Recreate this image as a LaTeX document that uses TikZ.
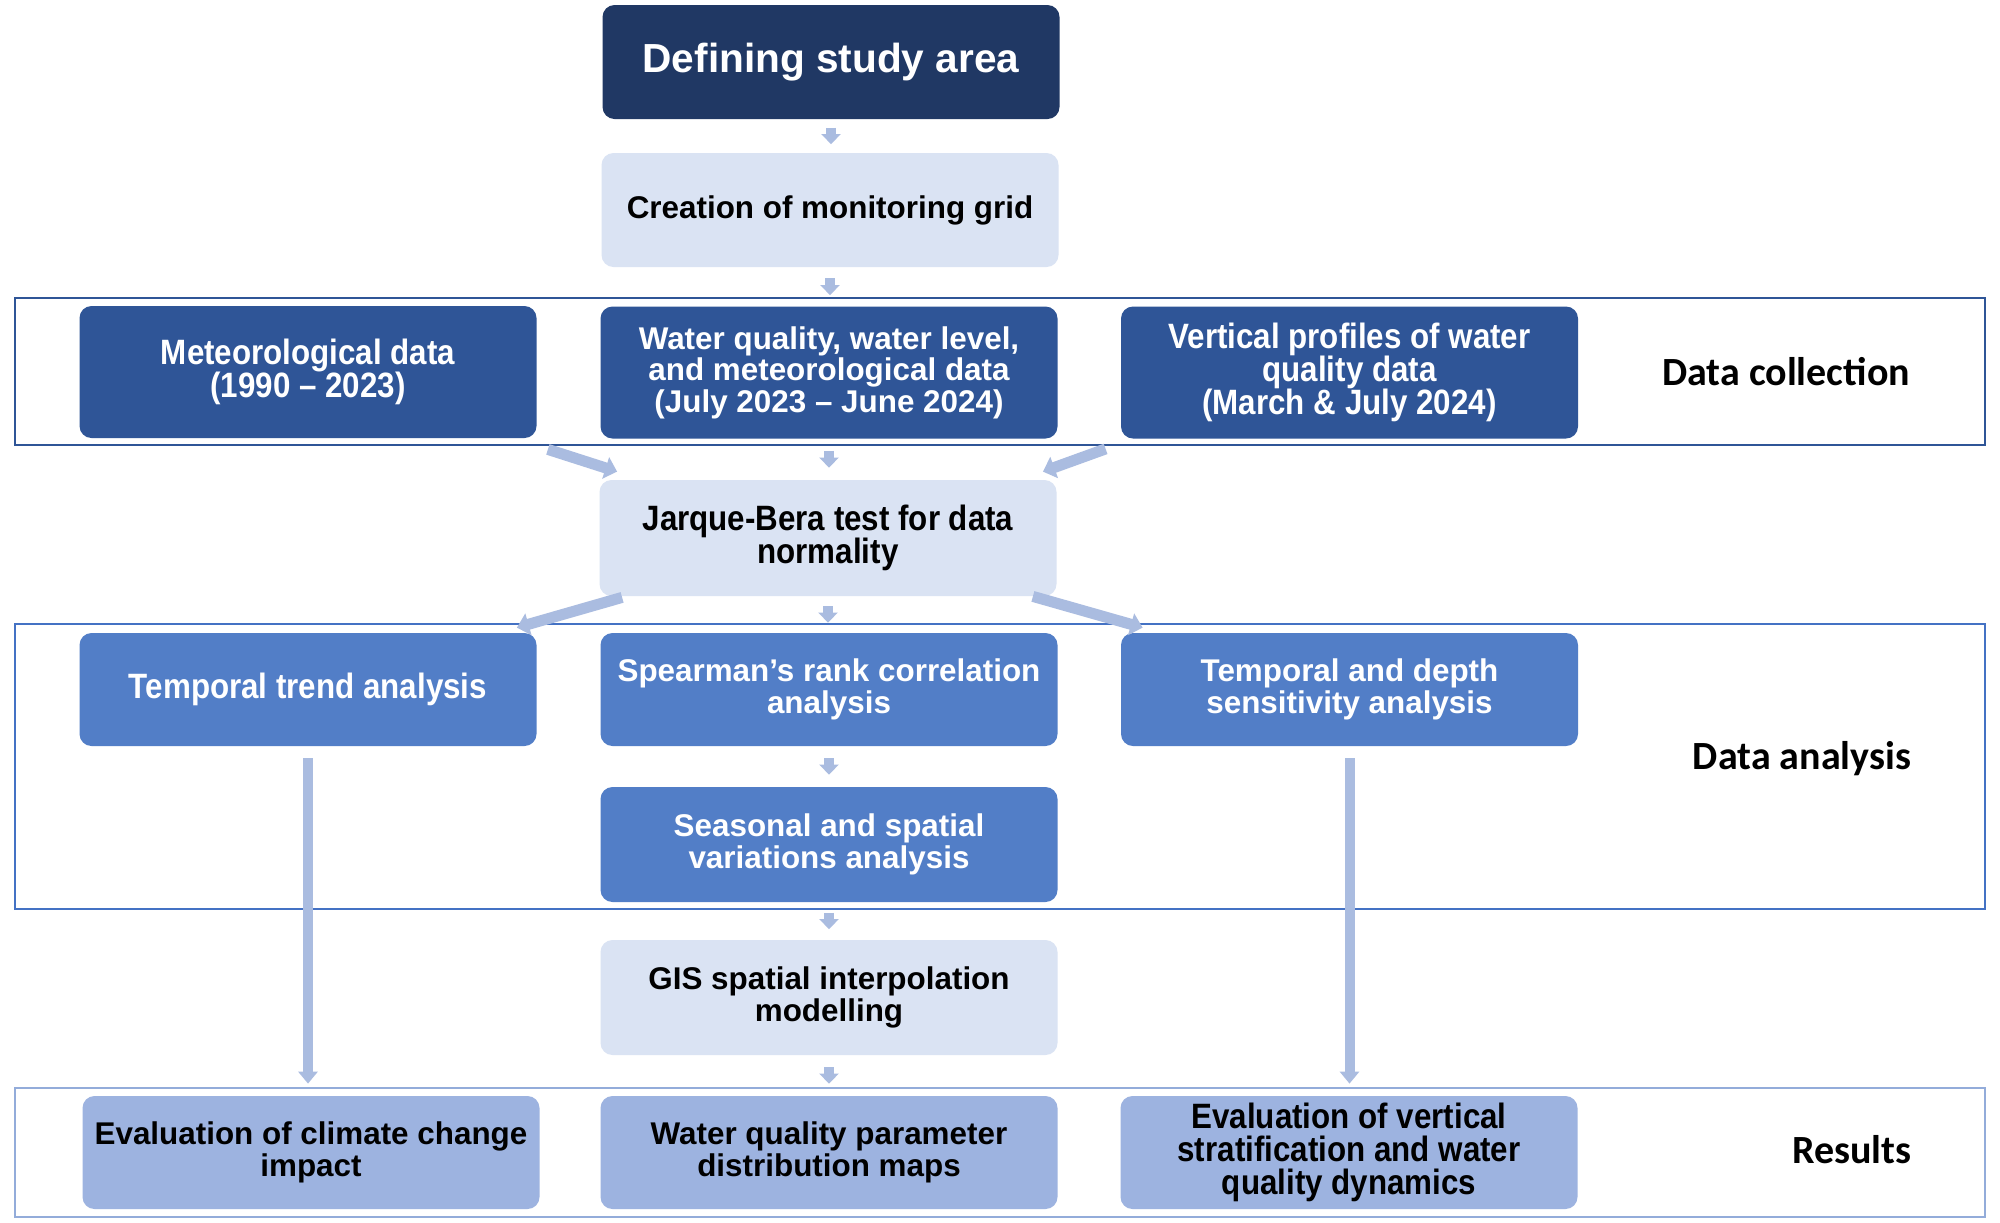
\documentclass[tikz,border=0pt]{standalone}
\usepackage{fontspec}
\setmainfont{Liberation Sans}
\newfontfamily\narrowfont[FakeStretch=0.89,Ligatures=TeX]{Liberation Sans}
\newfontfamily\calfont{Carlito}
\usetikzlibrary{arrows.meta,calc}
\definecolor{navy}{HTML}{203864}
\definecolor{dcblue}{HTML}{2F5597}
\definecolor{dablue}{HTML}{527EC7}
\definecolor{lightbox}{HTML}{DAE3F3}
\definecolor{resbox}{HTML}{9DB3E0}
\definecolor{arrowc}{HTML}{AABCE0}
\definecolor{daframe}{HTML}{4472C4}
\definecolor{resframe}{HTML}{93ACDA}
\newcommand\regfont{\bfseries\fontsize{15.7}{15.8}\selectfont\lineskiplimit=-20pt\relax}
\newcommand\narrfont{\narrowfont\bfseries\fontsize{17.6}{16.4}\selectfont\lineskiplimit=-20pt\relax}
\newcommand\bigfont{\bfseries\fontsize{20.3}{24}\selectfont}
\newcommand\labfont{\calfont\bfseries\fontsize{20}{24}\selectfont}
\begin{document}
\begin{tikzpicture}[x=0.5pt,y=-0.5pt,
  box/.style={rounded corners=6pt, minimum width=228.5pt, minimum height=57pt, inner sep=0pt, align=center, font=\regfont},
  navybox/.style={box, fill=navy, text=white},
  dcbox/.style={box, fill=dcblue, text=white, minimum height=66pt},
  dabox/.style={box, fill=dablue, text=white, minimum height=56.5pt},
  litebox/.style={box, fill=lightbox, text=black},
  resultbox/.style={box, fill=resbox, text=black, minimum height=56.5pt},
  narrow/.style={font=\narrfont},
  frame/.style={draw, line width=1pt, minimum width=985pt, inner sep=0pt},
  lab/.style={font=\labfont, text=black, inner sep=0pt},
  sarrow/.style={draw=arrowc, line width=5pt, -{Triangle[width=9.5pt,length=5pt]}, shorten <=#1, shorten >=#1},
  larrow/.style={draw=arrowc, line width=5pt, -{Triangle[width=9.5pt,length=6pt]}},
  darrow/.style={draw=arrowc, line width=5.5pt, -{Triangle[width=11pt,length=6pt]}}
]
\useasboundingbox[fill=white] (0,0) rectangle (2000,1222);

% frames
\node[frame, draw=dcblue, minimum height=73.5pt] (dcframe) at (1000,371.5) {};
\node[frame, draw=daframe, minimum height=142.5pt] (daframe) at (1000,766.5) {};
\node[frame, draw=resframe, minimum height=64.5pt] (resframe) at (1000,1152.5) {};

% boxes
\node[navybox, font=\bigfont] (def) at (831,62) {Defining study area};
\node[litebox] (cre) at (830,210) {Creation of monitoring grid};

\node[dcbox, narrow] (met) at (308,372) {Meteorological data\\(1990 – 2023)};
\node[dcbox] (wq) at (829,372.5) {Water quality, water level,\\and meteorological data\\(July 2023 – June 2024)};
\node[dcbox, narrow] (vp) at (1349.5,372.5) {Vertical profiles of water\\quality data\\(March \& July 2024)};

\node[litebox, narrow, minimum height=58pt] (jb) at (828,538) {Jarque-Bera test for data\\normality};

\node[dabox, narrow] (tt) at (308,689.5) {Temporal trend analysis};
\node[dabox] (sp) at (829,689.5) {Spearman’s rank correlation\\analysis};
\node[dabox] (td) at (1349.5,689.5) {Temporal and depth\\sensitivity analysis};
\node[dabox, minimum height=57.5pt] (se) at (829,844.5) {Seasonal and spatial\\variations analysis};

\node[litebox, minimum height=57.5pt] (gis) at (829,997.5) {GIS spatial interpolation\\modelling};

\node[resultbox] (ec) at (311,1152.5) {Evaluation of climate change\\impact};
\node[resultbox] (wm) at (829,1152.5) {Water quality parameter\\distribution maps};
\node[resultbox, narrow] (ev) at (1349,1152.5) {Evaluation of vertical\\stratification and water\\quality dynamics};

% section labels
\node[lab] (lcol) at (1786,372) {Data collection};
\node[lab] (lana) at (1802,759) {Data analysis};
\node[lab] (lres) at (1852,1150) {Results};

% small down arrows
\draw[sarrow=4.25pt] (def.south) -- (def.south |- cre.north);
\draw[sarrow=5.5pt] (cre.south) -- (cre.south |- wq.north);
\draw[sarrow=6pt] (wq.south) -- (wq.south |- jb.north);
\draw[sarrow=5pt] (jb.south) -- (jb.south |- sp.north);
\draw[sarrow=6pt] (sp.south) -- (sp.south |- se.north);
\draw[sarrow=5.25pt] (se.south) -- (se.south |- gis.north);
\draw[sarrow=6pt] (gis.south) -- (gis.south |- wm.north);

% long arrows
\draw[larrow] ($(tt.south)+(0,12)$) -- ($(tt.south |- ec.north)+(0,-12)$);
\draw[larrow] ($(td.south)+(0,12)$) -- ($(td.south |- ev.north)+(0,-12)$);

% diagonal arrows
\draw[darrow] ($(met.south east)+(11,11)$) -- ($(jb.north west)+(18,-8)$);
\draw[darrow] ($(vp.south west)+(-15,10)$) -- ($(jb.north east)+(-14,-8)$);
\draw[darrow] ($(jb.south west)+(23,1)$) -- ($(tt.north east)+(-20,-5)$);
\draw[darrow] ($(jb.south east)+(-24,0)$) -- ($(td.north west)+(22,-5)$);
\end{tikzpicture}
\end{document}
